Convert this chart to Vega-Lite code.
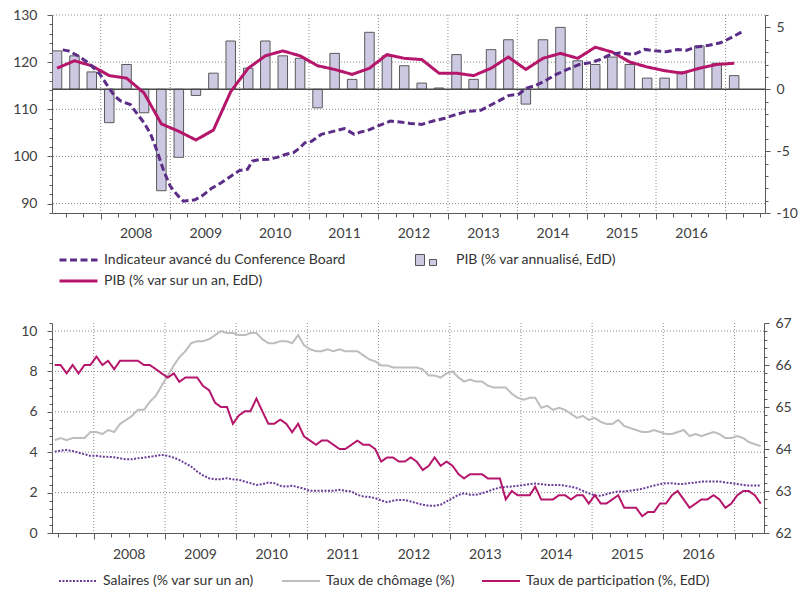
{
  "$schema": "https://vega.github.io/schema/vega-lite/v6.json",
  "padding": {"left": 12, "top": 8, "right": 0, "bottom": 0},
  "bounds": "flush",
  "spacing": 110,
  "resolve": {
    "scale": {"color": "independent", "strokeDash": "independent", "fill": "independent", "x": "independent"},
    "legend": {"color": "independent", "strokeDash": "independent", "fill": "independent"}
  },
  "config": {
    "font": "Lato",
    "view": {"stroke": null},
    "axis": {"labelFont": "Lato", "labelFontSize": 14, "labelColor": "#404040", "domainColor": "#5a5a5a", "tickColor": "#5a5a5a", "grid": false, "title": null, "labelOverlap": false},
    "legend": {"labelFont": "Lato", "labelFontSize": 14, "labelColor": "#333333", "labelLimit": 400},
    "rule": {"color": "#8c8c8c", "strokeWidth": 1, "strokeDash": [1, 2]}
  },
  "datasets": {
    "one": [{}],
    "gdp": [
      {"d":"2007-05-16","ann":3.1,"yoy":1.7},
      {"d":"2007-08-16","ann":2.7,"yoy":2.3},
      {"d":"2007-11-15","ann":1.4,"yoy":1.9},
      {"d":"2008-02-15","ann":-2.7,"yoy":1.1},
      {"d":"2008-05-16","ann":2.0,"yoy":0.9},
      {"d":"2008-08-16","ann":-1.9,"yoy":-0.3},
      {"d":"2008-11-15","ann":-8.2,"yoy":-2.8},
      {"d":"2009-02-15","ann":-5.5,"yoy":-3.4},
      {"d":"2009-05-16","ann":-0.5,"yoy":-4.1},
      {"d":"2009-08-16","ann":1.3,"yoy":-3.3},
      {"d":"2009-11-15","ann":3.9,"yoy":-0.2},
      {"d":"2010-02-15","ann":1.7,"yoy":1.7},
      {"d":"2010-05-16","ann":3.9,"yoy":2.7},
      {"d":"2010-08-16","ann":2.7,"yoy":3.1},
      {"d":"2010-11-15","ann":2.5,"yoy":2.7},
      {"d":"2011-02-15","ann":-1.5,"yoy":1.9},
      {"d":"2011-05-16","ann":2.9,"yoy":1.6},
      {"d":"2011-08-16","ann":0.8,"yoy":1.2},
      {"d":"2011-11-15","ann":4.6,"yoy":1.7},
      {"d":"2012-02-15","ann":2.7,"yoy":2.8},
      {"d":"2012-05-16","ann":1.9,"yoy":2.5},
      {"d":"2012-08-16","ann":0.5,"yoy":2.4},
      {"d":"2012-11-15","ann":0.1,"yoy":1.3},
      {"d":"2013-02-15","ann":2.8,"yoy":1.3},
      {"d":"2013-05-16","ann":0.8,"yoy":1.1},
      {"d":"2013-08-16","ann":3.2,"yoy":1.7},
      {"d":"2013-11-15","ann":4.0,"yoy":2.6},
      {"d":"2014-02-15","ann":-1.2,"yoy":1.6},
      {"d":"2014-05-16","ann":4.0,"yoy":2.5},
      {"d":"2014-08-16","ann":5.0,"yoy":2.9},
      {"d":"2014-11-15","ann":2.3,"yoy":2.5},
      {"d":"2015-02-15","ann":2.0,"yoy":3.4},
      {"d":"2015-05-16","ann":2.6,"yoy":3.0},
      {"d":"2015-08-16","ann":2.0,"yoy":2.2},
      {"d":"2015-11-15","ann":0.9,"yoy":1.8},
      {"d":"2016-02-15","ann":0.9,"yoy":1.5},
      {"d":"2016-05-16","ann":1.4,"yoy":1.3},
      {"d":"2016-08-16","ann":3.5,"yoy":1.7},
      {"d":"2016-11-15","ann":2.1,"yoy":2.0},
      {"d":"2017-02-15","ann":1.1,"yoy":2.1}
    ],
    "cb": [
      {"d":"2007-06-15","v":122.6},{"d":"2007-07-15","v":122.4},{"d":"2007-09-05","v":121.3},{"d":"2007-10-27","v":119.9},
      {"d":"2007-12-27","v":117.5},{"d":"2008-01-30","v":115.4},{"d":"2008-03-14","v":112.8},{"d":"2008-04-17","v":111.7},
      {"d":"2008-06-05","v":111.0},{"d":"2008-07-13","v":108.9},{"d":"2008-08-17","v":107.1},{"d":"2008-09-20","v":104.7},
      {"d":"2008-10-24","v":101.1},{"d":"2008-11-28","v":96.9},{"d":"2009-01-01","v":93.7},{"d":"2009-02-05","v":91.9},
      {"d":"2009-03-11","v":90.5},{"d":"2009-05-11","v":90.8},{"d":"2009-06-23","v":91.8},{"d":"2009-08-05","v":93.2},
      {"d":"2009-09-26","v":94.4},{"d":"2009-11-16","v":95.8},{"d":"2009-12-30","v":97.0},{"d":"2010-02-12","v":97.3},
      {"d":"2010-03-09","v":99.0},{"d":"2010-04-13","v":99.3},{"d":"2010-06-04","v":99.4},{"d":"2010-07-17","v":99.8},
      {"d":"2010-08-29","v":100.4},{"d":"2010-10-11","v":100.8},{"d":"2010-11-14","v":101.8},{"d":"2010-12-10","v":102.9},
      {"d":"2011-01-14","v":103.2},{"d":"2011-03-07","v":104.7},{"d":"2011-04-28","v":105.2},{"d":"2011-07-06","v":105.9},
      {"d":"2011-08-27","v":104.7},{"d":"2011-10-01","v":105.2},{"d":"2011-11-04","v":105.5},{"d":"2011-12-26","v":106.4},
      {"d":"2012-03-04","v":107.5},{"d":"2012-04-25","v":107.3},{"d":"2012-06-16","v":107.0},{"d":"2012-08-15","v":106.8},
      {"d":"2012-10-15","v":107.5},{"d":"2012-12-15","v":108.1},{"d":"2013-02-05","v":108.8},{"d":"2013-04-07","v":109.5},
      {"d":"2013-06-23","v":109.8},{"d":"2013-08-05","v":110.7},{"d":"2013-09-26","v":111.8},{"d":"2013-11-16","v":112.9},
      {"d":"2014-01-08","v":113.2},{"d":"2014-02-20","v":114.5},{"d":"2014-04-04","v":115.0},{"d":"2014-05-26","v":116.0},
      {"d":"2014-07-25","v":117.4},{"d":"2014-09-24","v":118.5},{"d":"2014-11-23","v":119.5},{"d":"2015-01-22","v":119.9},
      {"d":"2015-03-15","v":120.6},{"d":"2015-05-06","v":121.6},{"d":"2015-06-27","v":122.0},{"d":"2015-09-04","v":121.6},
      {"d":"2015-11-03","v":122.7},{"d":"2015-12-25","v":122.4},{"d":"2016-02-24","v":122.2},{"d":"2016-04-25","v":122.7},
      {"d":"2016-06-07","v":122.5},{"d":"2016-07-29","v":123.2},{"d":"2016-10-06","v":123.6},{"d":"2016-12-05","v":124.1},
      {"d":"2017-02-05","v":125.3},{"d":"2017-04-05","v":126.6}
    ],
    "m": [
      {"d":"2007-06-15","w":4.03,"u":4.6,"p":66.0},{"d":"2007-07-15","w":4.08,"u":4.7,"p":66.0},{"d":"2007-08-15","w":4.11,"u":4.6,"p":65.8},
      {"d":"2007-09-15","w":4.06,"u":4.7,"p":66.0},{"d":"2007-10-15","w":3.98,"u":4.7,"p":65.8},{"d":"2007-11-15","w":3.9,"u":4.7,"p":66.0},
      {"d":"2007-12-15","w":3.82,"u":5.0,"p":66.0},
      {"d":"2008-01-15","w":3.82,"u":5.0,"p":66.2},{"d":"2008-02-15","w":3.78,"u":4.9,"p":66.0},{"d":"2008-03-15","w":3.77,"u":5.1,"p":66.1},
      {"d":"2008-04-15","w":3.75,"u":5.0,"p":65.9},{"d":"2008-05-15","w":3.7,"u":5.4,"p":66.1},{"d":"2008-06-15","w":3.65,"u":5.6,"p":66.1},
      {"d":"2008-07-15","w":3.65,"u":5.8,"p":66.1},{"d":"2008-08-15","w":3.7,"u":6.1,"p":66.1},{"d":"2008-09-15","w":3.73,"u":6.1,"p":66.0},
      {"d":"2008-10-15","w":3.78,"u":6.5,"p":66.0},{"d":"2008-11-15","w":3.82,"u":6.8,"p":65.9},{"d":"2008-12-15","w":3.87,"u":7.3,"p":65.8},
      {"d":"2009-01-15","w":3.82,"u":7.8,"p":65.7},{"d":"2009-02-15","w":3.73,"u":8.3,"p":65.8},{"d":"2009-03-15","w":3.62,"u":8.7,"p":65.6},
      {"d":"2009-04-15","w":3.45,"u":9.0,"p":65.7},{"d":"2009-05-15","w":3.29,"u":9.4,"p":65.7},{"d":"2009-06-15","w":3.04,"u":9.5,"p":65.7},
      {"d":"2009-07-15","w":2.85,"u":9.5,"p":65.5},{"d":"2009-08-15","w":2.71,"u":9.6,"p":65.4},{"d":"2009-09-15","w":2.66,"u":9.8,"p":65.1},
      {"d":"2009-10-15","w":2.66,"u":10.0,"p":65.0},{"d":"2009-11-15","w":2.71,"u":9.9,"p":65.0},{"d":"2009-12-15","w":2.66,"u":9.9,"p":64.6},
      {"d":"2010-01-15","w":2.63,"u":9.8,"p":64.8},{"d":"2010-02-15","w":2.55,"u":9.8,"p":64.9},{"d":"2010-03-15","w":2.47,"u":9.9,"p":64.9},
      {"d":"2010-04-15","w":2.38,"u":9.9,"p":65.2},{"d":"2010-05-15","w":2.42,"u":9.6,"p":64.9},{"d":"2010-06-15","w":2.5,"u":9.4,"p":64.6},
      {"d":"2010-07-15","w":2.47,"u":9.4,"p":64.6},{"d":"2010-08-15","w":2.34,"u":9.5,"p":64.7},{"d":"2010-09-15","w":2.3,"u":9.5,"p":64.6},
      {"d":"2010-10-15","w":2.34,"u":9.4,"p":64.4},{"d":"2010-11-15","w":2.27,"u":9.8,"p":64.6},{"d":"2010-12-15","w":2.19,"u":9.3,"p":64.3},
      {"d":"2011-01-15","w":2.09,"u":9.1,"p":64.2},{"d":"2011-02-15","w":2.09,"u":9.0,"p":64.1},{"d":"2011-03-15","w":2.09,"u":9.0,"p":64.2},
      {"d":"2011-04-15","w":2.09,"u":9.1,"p":64.2},{"d":"2011-05-15","w":2.09,"u":9.0,"p":64.1},{"d":"2011-06-15","w":2.14,"u":9.1,"p":64.0},
      {"d":"2011-07-15","w":2.09,"u":9.0,"p":64.0},{"d":"2011-08-15","w":2.06,"u":9.0,"p":64.1},{"d":"2011-09-15","w":1.89,"u":9.0,"p":64.2},
      {"d":"2011-10-15","w":1.81,"u":8.8,"p":64.1},{"d":"2011-11-15","w":1.78,"u":8.6,"p":64.1},{"d":"2011-12-15","w":1.73,"u":8.5,"p":64.0},
      {"d":"2012-01-15","w":1.61,"u":8.3,"p":63.7},{"d":"2012-02-15","w":1.53,"u":8.3,"p":63.8},{"d":"2012-03-15","w":1.6,"u":8.2,"p":63.8},
      {"d":"2012-04-15","w":1.64,"u":8.2,"p":63.7},{"d":"2012-05-15","w":1.64,"u":8.2,"p":63.7},{"d":"2012-06-15","w":1.56,"u":8.2,"p":63.8},
      {"d":"2012-07-15","w":1.48,"u":8.2,"p":63.7},{"d":"2012-08-15","w":1.4,"u":8.1,"p":63.5},{"d":"2012-09-15","w":1.35,"u":7.8,"p":63.6},
      {"d":"2012-10-15","w":1.35,"u":7.8,"p":63.8},{"d":"2012-11-15","w":1.4,"u":7.7,"p":63.6},{"d":"2012-12-15","w":1.56,"u":7.9,"p":63.7},
      {"d":"2013-01-15","w":1.73,"u":8.0,"p":63.6},{"d":"2013-02-15","w":1.89,"u":7.7,"p":63.4},{"d":"2013-03-15","w":1.97,"u":7.5,"p":63.3},
      {"d":"2013-04-15","w":1.89,"u":7.6,"p":63.4},{"d":"2013-05-15","w":1.89,"u":7.5,"p":63.4},{"d":"2013-06-15","w":1.97,"u":7.5,"p":63.4},
      {"d":"2013-07-15","w":2.06,"u":7.3,"p":63.3},{"d":"2013-08-15","w":2.17,"u":7.2,"p":63.3},{"d":"2013-09-15","w":2.25,"u":7.2,"p":63.3},
      {"d":"2013-10-15","w":2.29,"u":7.2,"p":62.8},{"d":"2013-11-15","w":2.3,"u":6.9,"p":63.0},{"d":"2013-12-15","w":2.34,"u":6.7,"p":62.9},
      {"d":"2014-01-15","w":2.38,"u":6.6,"p":62.9},{"d":"2014-02-15","w":2.42,"u":6.7,"p":62.9},{"d":"2014-03-15","w":2.45,"u":6.7,"p":63.1},
      {"d":"2014-04-15","w":2.42,"u":6.2,"p":62.8},{"d":"2014-05-15","w":2.38,"u":6.3,"p":62.8},{"d":"2014-06-15","w":2.38,"u":6.1,"p":62.8},
      {"d":"2014-07-15","w":2.38,"u":6.2,"p":62.9},{"d":"2014-08-15","w":2.34,"u":6.1,"p":62.9},{"d":"2014-09-15","w":2.29,"u":5.9,"p":62.8},
      {"d":"2014-10-15","w":2.22,"u":5.7,"p":62.9},{"d":"2014-11-15","w":2.09,"u":5.8,"p":62.9},{"d":"2014-12-15","w":1.97,"u":5.6,"p":62.7},
      {"d":"2015-01-15","w":1.86,"u":5.7,"p":62.9},{"d":"2015-02-15","w":1.84,"u":5.5,"p":62.7},{"d":"2015-03-15","w":1.92,"u":5.4,"p":62.7},
      {"d":"2015-04-15","w":2.0,"u":5.4,"p":62.8},{"d":"2015-05-15","w":2.06,"u":5.6,"p":62.9},{"d":"2015-06-15","w":2.06,"u":5.3,"p":62.6},
      {"d":"2015-07-15","w":2.09,"u":5.2,"p":62.6},{"d":"2015-08-15","w":2.14,"u":5.1,"p":62.6},{"d":"2015-09-15","w":2.19,"u":5.0,"p":62.4},
      {"d":"2015-10-15","w":2.27,"u":5.0,"p":62.5},{"d":"2015-11-15","w":2.35,"u":5.1,"p":62.5},{"d":"2015-12-15","w":2.42,"u":5.0,"p":62.7},
      {"d":"2016-01-15","w":2.47,"u":4.9,"p":62.7},{"d":"2016-02-15","w":2.47,"u":4.9,"p":62.9},{"d":"2016-03-15","w":2.43,"u":5.0,"p":63.0},
      {"d":"2016-04-15","w":2.43,"u":5.1,"p":62.8},{"d":"2016-05-15","w":2.47,"u":4.8,"p":62.6},{"d":"2016-06-15","w":2.5,"u":4.9,"p":62.7},
      {"d":"2016-07-15","w":2.55,"u":4.8,"p":62.8},{"d":"2016-08-15","w":2.55,"u":4.9,"p":62.8},{"d":"2016-09-15","w":2.55,"u":5.0,"p":62.9},
      {"d":"2016-10-15","w":2.55,"u":4.9,"p":62.8},{"d":"2016-11-15","w":2.5,"u":4.7,"p":62.6},{"d":"2016-12-15","w":2.47,"u":4.7,"p":62.7},
      {"d":"2017-01-15","w":2.43,"u":4.8,"p":62.9},{"d":"2017-02-15","w":2.38,"u":4.7,"p":63.0},{"d":"2017-03-15","w":2.35,"u":4.5,"p":63.0},
      {"d":"2017-04-15","w":2.35,"u":4.4,"p":62.9},{"d":"2017-05-15","w":2.35,"u":4.3,"p":62.7}
    ]
  },
  "vconcat": [
    {
      "width": 713,
      "height": 198,
      "resolve": {"scale": {"y": "independent"}},
      "layer": [
        {"data": {"name": "one"}, "mark": "rule", "encoding": {"y": {"datum": 90, "type": "quantitative", "scale": {"domain": [88, 130], "nice": false, "zero": false}, "axis": null}}},
        {"data": {"name": "one"}, "mark": "rule", "encoding": {"y": {"datum": 100, "type": "quantitative", "scale": {"domain": [88, 130], "nice": false, "zero": false}, "axis": null}}},
        {"data": {"name": "one"}, "mark": "rule", "encoding": {"y": {"datum": 110, "type": "quantitative", "scale": {"domain": [88, 130], "nice": false, "zero": false}, "axis": null}}},
        {"data": {"name": "one"}, "mark": "rule", "encoding": {"y": {"datum": 120, "type": "quantitative", "scale": {"domain": [88, 130], "nice": false, "zero": false}, "axis": null}}},
        {"data": {"name": "one"}, "mark": "rule", "encoding": {"y": {"datum": 130, "type": "quantitative", "scale": {"domain": [88, 130], "nice": false, "zero": false}, "axis": null}}},
        {"data": {"name": "one"}, "mark": "rule", "encoding": {"x": {"datum": {"year": 2008, "month": 1, "date": 1, "utc": true}, "type": "temporal"}}},
        {"data": {"name": "one"}, "mark": "rule", "encoding": {"x": {"datum": {"year": 2009, "month": 1, "date": 1, "utc": true}, "type": "temporal"}}},
        {"data": {"name": "one"}, "mark": "rule", "encoding": {"x": {"datum": {"year": 2010, "month": 1, "date": 1, "utc": true}, "type": "temporal"}}},
        {"data": {"name": "one"}, "mark": "rule", "encoding": {"x": {"datum": {"year": 2011, "month": 1, "date": 1, "utc": true}, "type": "temporal"}}},
        {"data": {"name": "one"}, "mark": "rule", "encoding": {"x": {"datum": {"year": 2012, "month": 1, "date": 1, "utc": true}, "type": "temporal"}}},
        {"data": {"name": "one"}, "mark": "rule", "encoding": {"x": {"datum": {"year": 2013, "month": 1, "date": 1, "utc": true}, "type": "temporal"}}},
        {"data": {"name": "one"}, "mark": "rule", "encoding": {"x": {"datum": {"year": 2014, "month": 1, "date": 1, "utc": true}, "type": "temporal"}}},
        {"data": {"name": "one"}, "mark": "rule", "encoding": {"x": {"datum": {"year": 2015, "month": 1, "date": 1, "utc": true}, "type": "temporal"}}},
        {"data": {"name": "one"}, "mark": "rule", "encoding": {"x": {"datum": {"year": 2016, "month": 1, "date": 1, "utc": true}, "type": "temporal"}}},
        {"data": {"name": "one"}, "mark": "rule", "encoding": {"x": {"datum": {"year": 2017, "month": 1, "date": 1, "utc": true}, "type": "temporal"}}},
        {
          "data": {"name": "gdp"},
          "mark": {"type": "bar", "size": 9.5, "clip": true, "stroke": "#5a5a5a", "strokeWidth": 1},
          "encoding": {
            "x": {
              "field": "d", "type": "temporal",
              "scale": {"type": "utc", "domain": [{"year": 2007, "month": 5, "date": 16, "utc": true}, {"year": 2017, "month": 7, "date": 1, "utc": true}]},
              "axis": {
                "orient": "bottom",
                "tickCount": {"interval": "month", "step": 3},
                "tickSize": {"condition": {"test": "utcmonth(datum.value) === 0", "value": 6}, "value": 4},
                "labelExpr": "utcmonth(datum.value) === 0 && utcyear(datum.value) < 2017 ? utcFormat(datum.value, '%Y') : ''",
                "labelOffset": 35, "labelPadding": 7, "labelFlush": false, "labelBound": false, "labelOverlap": false
              }
            },
            "y": {
              "field": "ann", "type": "quantitative",
              "scale": {"domain": [-10, 6], "nice": false, "zero": false},
              "axis": {
                "orient": "right",
                "values": [-10,-9,-8,-7,-6,-5,-4,-3,-2,-1,0,1,2,3,4,5,6],
                "labelExpr": "datum.value % 5 === 0 ? '' + datum.value : ''",
                "tickSize": {"condition": {"test": "datum.value % 5 === 0", "value": 5}, "value": 3},
                "labelPadding": 6, "labelOverlap": false, "labelBound": false, "labelFlush": false
              }
            },
            "fill": {
              "datum": "PIB (% var annualisé, EdD)", "type": "nominal",
              "scale": {"domain": ["PIB (% var annualisé, EdD)"], "range": ["#cdc9e3"]},
              "legend": {
                "title": null, "orient": "none", "legendX": 363, "legendY": 237,
                "symbolType": "M-1,-0.393H-0.357V0.393H-1Z M0,-0.036H0.5V0.393H0Z",
                "symbolSize": 784, "symbolStrokeColor": "#555555", "symbolStrokeWidth": 1, "symbolOpacity": 1,
                "clipHeight": 16, "labelOffset": 12, "padding": 0
              }
            }
          }
        },
        {
          "data": {"name": "one"},
          "mark": {"type": "rule", "color": "#4a4a4a", "strokeWidth": 1.5, "strokeDash": [1, 0]},
          "encoding": {"y": {"datum": 0, "type": "quantitative", "scale": {"domain": [-10, 6], "nice": false, "zero": false}, "axis": null}}
        },
        {
          "data": {"name": "gdp"},
          "mark": {"type": "line", "strokeWidth": 3},
          "encoding": {
            "x": {"field": "d", "type": "temporal"},
            "y": {"field": "yoy", "type": "quantitative", "scale": {"domain": [-10, 6], "nice": false, "zero": false}, "axis": null},
            "color": {
              "datum": "PIB (% var sur un an, EdD)", "type": "nominal",
              "scale": {"domain": ["Indicateur avancé du Conference Board", "PIB (% var sur un an, EdD)"], "range": ["#5c2d87", "#b5166b"]},
              "legend": {
                "title": null, "orient": "none", "legendX": 6, "legendY": 237,
                "direction": "vertical", "rowPadding": 5,
                "symbolType": "stroke", "symbolSize": 1444, "symbolStrokeWidth": 3, "clipHeight": 16,
                "labelOffset": 5, "padding": 0
              }
            },
            "strokeDash": {
              "datum": "PIB (% var sur un an, EdD)", "type": "nominal",
              "scale": {"domain": ["Indicateur avancé du Conference Board", "PIB (% var sur un an, EdD)"], "range": [[7, 3.5], [1, 0]]},
              "legend": {
                "title": null, "orient": "none", "legendX": 6, "legendY": 237,
                "direction": "vertical", "rowPadding": 5,
                "symbolType": "stroke", "symbolSize": 1444, "symbolStrokeWidth": 3, "clipHeight": 16,
                "labelOffset": 5, "padding": 0
              }
            }
          }
        },
        {
          "data": {"name": "cb"},
          "mark": {"type": "line", "strokeWidth": 3},
          "encoding": {
            "x": {"field": "d", "type": "temporal"},
            "y": {
              "field": "v", "type": "quantitative",
              "scale": {"domain": [88, 130], "nice": false, "zero": false},
              "axis": {
                "orient": "left",
                "values": [88,90,92,94,96,98,100,102,104,106,108,110,112,114,116,118,120,122,124,126,128,130],
                "labelExpr": "datum.value % 10 === 0 ? '' + datum.value : ''",
                "tickSize": {"condition": {"test": "datum.value % 10 === 0", "value": 5}, "value": 3},
                "labelPadding": 10, "labelOverlap": false, "labelBound": false, "labelFlush": false
              }
            },
            "color": {"datum": "Indicateur avancé du Conference Board", "type": "nominal"},
            "strokeDash": {"datum": "Indicateur avancé du Conference Board", "type": "nominal"}
          }
        }
      ]
    },
    {
      "width": 712,
      "height": 210,
      "resolve": {"scale": {"y": "independent"}},
      "layer": [
        {"data": {"name": "one"}, "mark": "rule", "encoding": {"y": {"datum": 2, "type": "quantitative", "scale": {"domain": [0, 10.4], "nice": false, "zero": false}, "axis": null}}},
        {"data": {"name": "one"}, "mark": "rule", "encoding": {"y": {"datum": 4, "type": "quantitative", "scale": {"domain": [0, 10.4], "nice": false, "zero": false}, "axis": null}}},
        {"data": {"name": "one"}, "mark": "rule", "encoding": {"y": {"datum": 6, "type": "quantitative", "scale": {"domain": [0, 10.4], "nice": false, "zero": false}, "axis": null}}},
        {"data": {"name": "one"}, "mark": "rule", "encoding": {"y": {"datum": 8, "type": "quantitative", "scale": {"domain": [0, 10.4], "nice": false, "zero": false}, "axis": null}}},
        {"data": {"name": "one"}, "mark": "rule", "encoding": {"y": {"datum": 10, "type": "quantitative", "scale": {"domain": [0, 10.4], "nice": false, "zero": false}, "axis": null}}},
        {"data": {"name": "one"}, "mark": "rule", "encoding": {"x": {"datum": {"year": 2008, "month": 1, "date": 1, "utc": true}, "type": "temporal"}}},
        {"data": {"name": "one"}, "mark": "rule", "encoding": {"x": {"datum": {"year": 2009, "month": 1, "date": 1, "utc": true}, "type": "temporal"}}},
        {"data": {"name": "one"}, "mark": "rule", "encoding": {"x": {"datum": {"year": 2010, "month": 1, "date": 1, "utc": true}, "type": "temporal"}}},
        {"data": {"name": "one"}, "mark": "rule", "encoding": {"x": {"datum": {"year": 2011, "month": 1, "date": 1, "utc": true}, "type": "temporal"}}},
        {"data": {"name": "one"}, "mark": "rule", "encoding": {"x": {"datum": {"year": 2012, "month": 1, "date": 1, "utc": true}, "type": "temporal"}}},
        {"data": {"name": "one"}, "mark": "rule", "encoding": {"x": {"datum": {"year": 2013, "month": 1, "date": 1, "utc": true}, "type": "temporal"}}},
        {"data": {"name": "one"}, "mark": "rule", "encoding": {"x": {"datum": {"year": 2014, "month": 1, "date": 1, "utc": true}, "type": "temporal"}}},
        {"data": {"name": "one"}, "mark": "rule", "encoding": {"x": {"datum": {"year": 2015, "month": 1, "date": 1, "utc": true}, "type": "temporal"}}},
        {"data": {"name": "one"}, "mark": "rule", "encoding": {"x": {"datum": {"year": 2016, "month": 1, "date": 1, "utc": true}, "type": "temporal"}}},
        {"data": {"name": "one"}, "mark": "rule", "encoding": {"x": {"datum": {"year": 2017, "month": 1, "date": 1, "utc": true}, "type": "temporal"}}},
        {
          "data": {"name": "m"},
          "mark": {"type": "line", "strokeWidth": 2},
          "encoding": {
            "x": {
              "field": "d", "type": "temporal",
              "scale": {"type": "utc", "domain": [{"year": 2007, "month": 6, "date": 1, "utc": true}, {"year": 2017, "month": 6, "date": 1, "utc": true}]},
              "axis": {
                "orient": "bottom",
                "tickCount": {"interval": "month", "step": 3},
                "tickSize": {"condition": {"test": "utcmonth(datum.value) === 0", "value": 6}, "value": 4},
                "labelExpr": "utcmonth(datum.value) === 0 && utcyear(datum.value) < 2017 ? utcFormat(datum.value, '%Y') : ''",
                "labelOffset": 35, "labelPadding": 8, "labelFlush": false, "labelBound": false, "labelOverlap": false
              }
            },
            "y": {
              "field": "u", "type": "quantitative",
              "scale": {"domain": [0, 10.4], "nice": false, "zero": false},
              "axis": {
                "orient": "left",
                "values": [0,0.4,0.8,1.2,1.6,2,2.4,2.8,3.2,3.6,4,4.4,4.8,5.2,5.6,6,6.4,6.8,7.2,7.6,8,8.4,8.8,9.2,9.6,10,10.4],
                "labelExpr": "abs(datum.value - round(datum.value / 2) * 2) < 0.001 ? '' + round(datum.value) : ''",
                "tickSize": {"condition": {"test": "abs(datum.value - round(datum.value / 2) * 2) < 0.001", "value": 5}, "value": 3},
                "labelPadding": 10, "labelOverlap": false, "labelBound": false, "labelFlush": false
              }
            },
            "color": {
              "datum": "Taux de chômage (%)", "type": "nominal",
              "scale": {
                "domain": ["Salaires (% var sur un an)", "Taux de chômage (%)", "Taux de participation (%, EdD)"],
                "range": ["#6a3d9a", "#bdbdbd", "#b5166b"]
              },
              "legend": {
                "title": null, "orient": "none", "legendX": 6, "legendY": 250,
                "direction": "horizontal", "columns": 3, "columnPadding": 26,
                "symbolType": "stroke", "symbolSize": 1444, "symbolStrokeWidth": 2, "clipHeight": 16,
                "labelOffset": 5, "padding": 0
              }
            },
            "strokeDash": {
              "datum": "Taux de chômage (%)", "type": "nominal",
              "scale": {
                "domain": ["Salaires (% var sur un an)", "Taux de chômage (%)", "Taux de participation (%, EdD)"],
                "range": [[2, 1.5], [1, 0], [1, 0]]
              },
              "legend": {
                "title": null, "orient": "none", "legendX": 6, "legendY": 250,
                "direction": "horizontal", "columns": 3, "columnPadding": 26,
                "symbolType": "stroke", "symbolSize": 1444, "symbolStrokeWidth": 2, "clipHeight": 16,
                "labelOffset": 5, "padding": 0
              }
            }
          }
        },
        {
          "data": {"name": "m"},
          "mark": {"type": "line", "strokeWidth": 2},
          "encoding": {
            "x": {"field": "d", "type": "temporal"},
            "y": {"field": "w", "type": "quantitative", "scale": {"domain": [0, 10.4], "nice": false, "zero": false}, "axis": null},
            "color": {"datum": "Salaires (% var sur un an)", "type": "nominal"},
            "strokeDash": {"datum": "Salaires (% var sur un an)", "type": "nominal"}
          }
        },
        {
          "data": {"name": "m"},
          "mark": {"type": "line", "strokeWidth": 2},
          "encoding": {
            "x": {"field": "d", "type": "temporal"},
            "y": {
              "field": "p", "type": "quantitative",
              "scale": {"domain": [62, 67], "nice": false, "zero": false},
              "axis": {
                "orient": "right",
                "values": [62,62.2,62.4,62.6,62.8,63,63.2,63.4,63.6,63.8,64,64.2,64.4,64.6,64.8,65,65.2,65.4,65.6,65.8,66,66.2,66.4,66.6,66.8,67],
                "labelExpr": "abs(datum.value - round(datum.value)) < 0.001 ? '' + round(datum.value) : ''",
                "tickSize": {"condition": {"test": "abs(datum.value - round(datum.value)) < 0.001", "value": 5}, "value": 3},
                "labelPadding": 6, "labelOverlap": false, "labelBound": false, "labelFlush": false
              }
            },
            "color": {"datum": "Taux de participation (%, EdD)", "type": "nominal"},
            "strokeDash": {"datum": "Taux de participation (%, EdD)", "type": "nominal"}
          }
        }
      ]
    }
  ]
}
